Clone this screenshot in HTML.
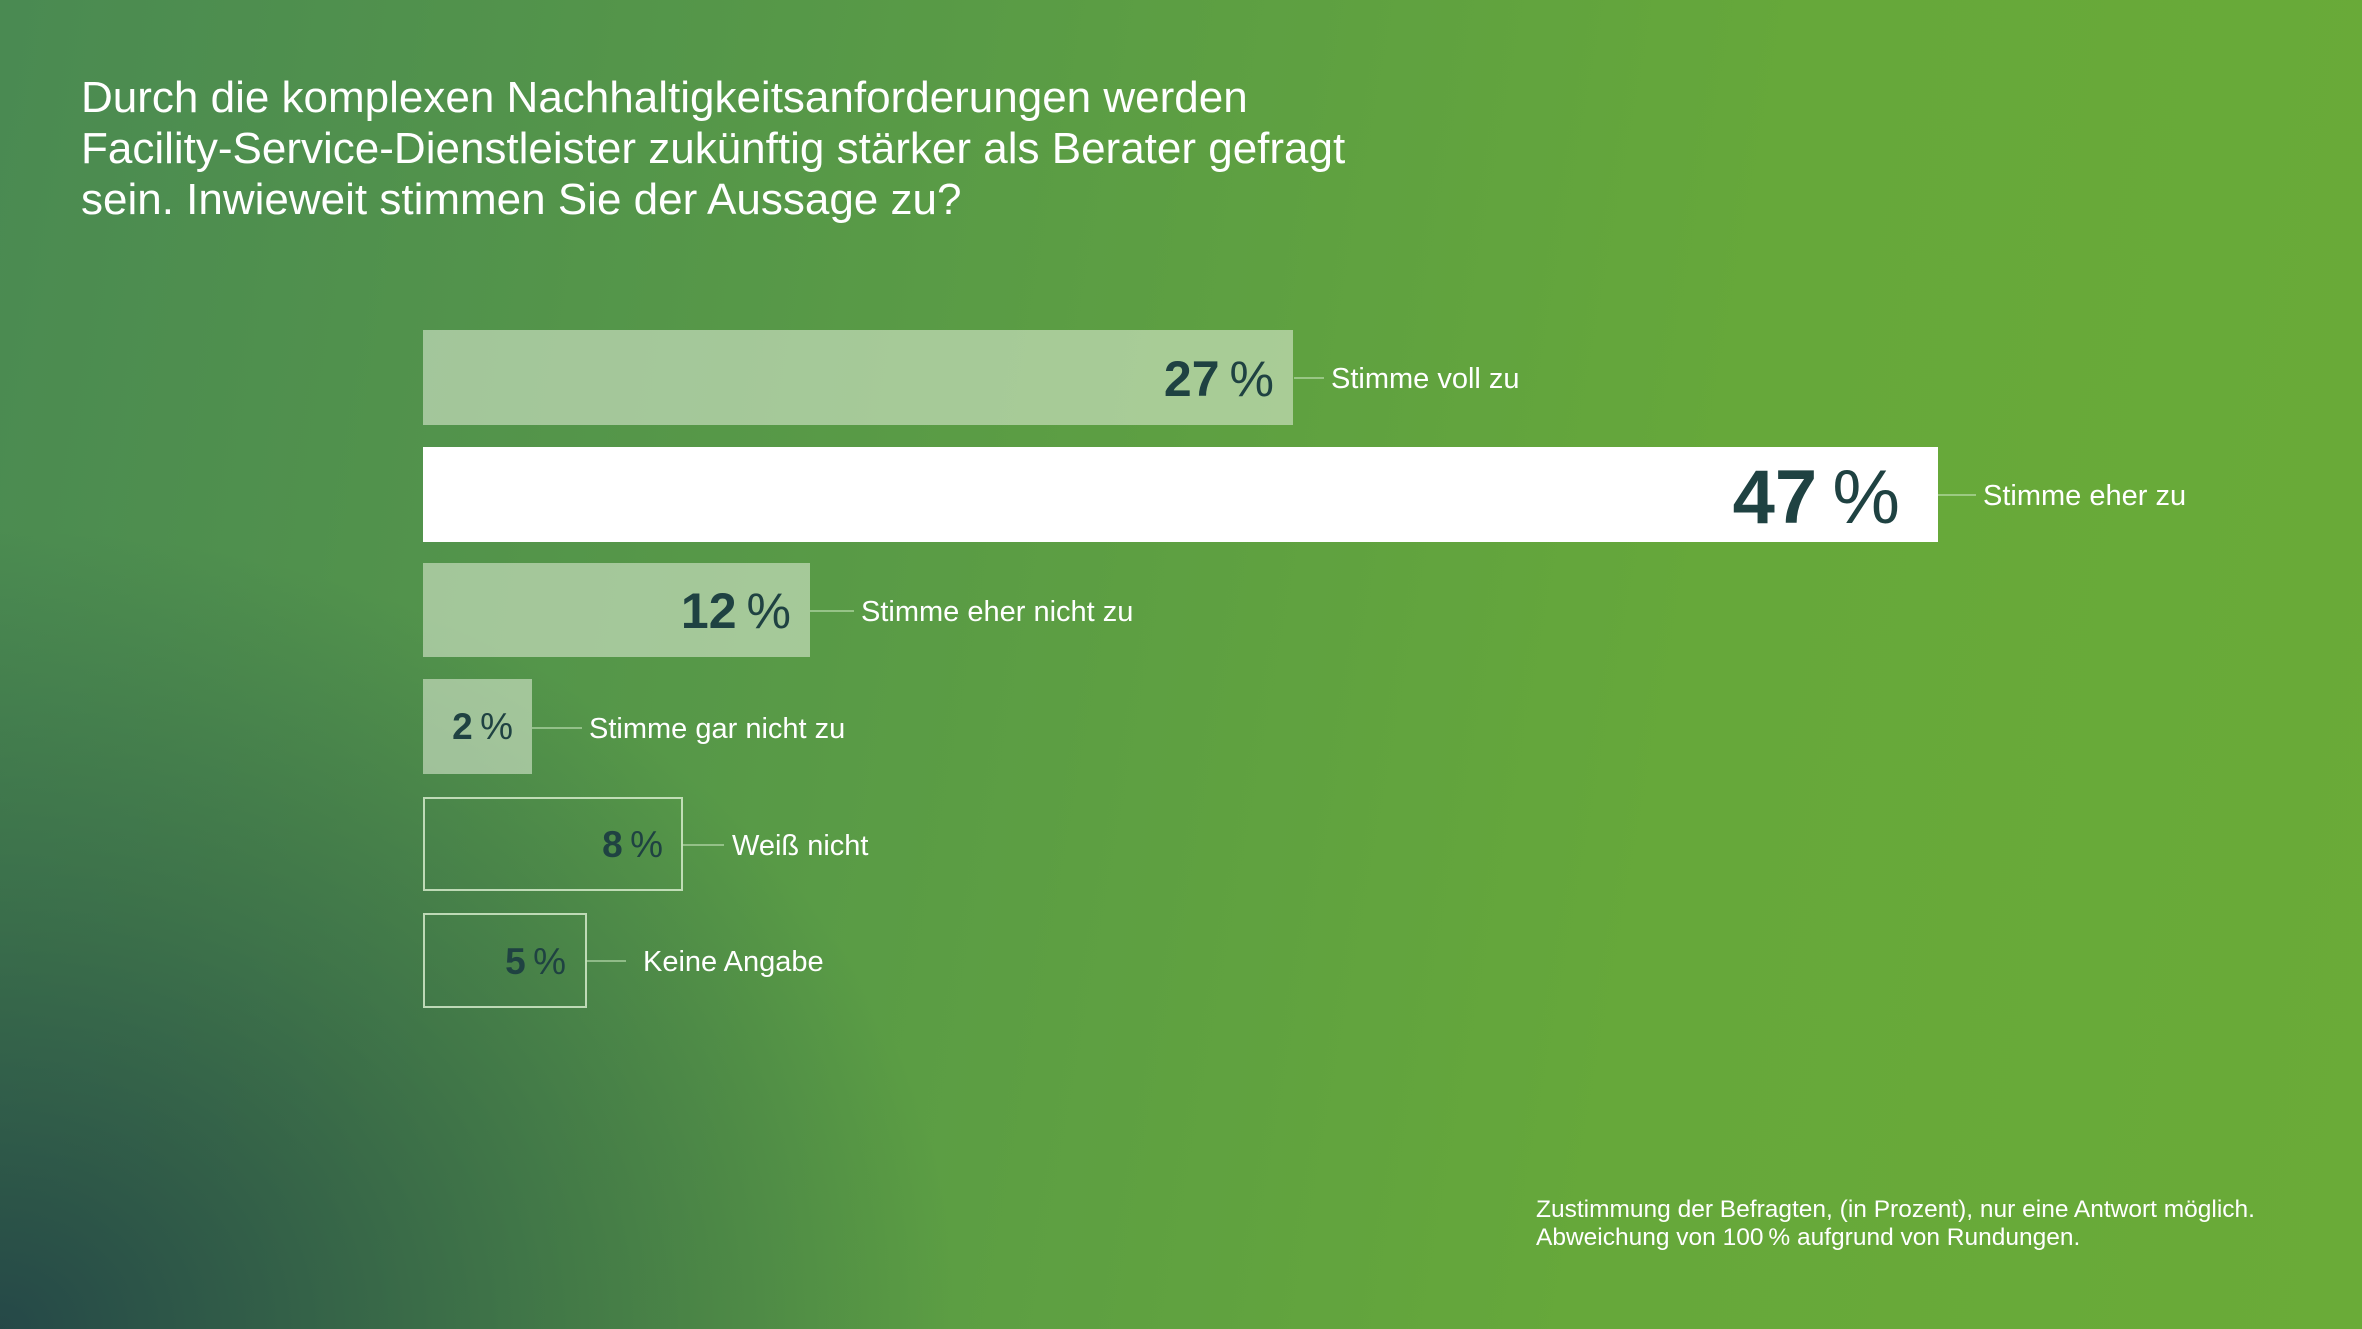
<!DOCTYPE html>
<html><head><meta charset="utf-8"><style>
html,body{margin:0;padding:0}
body{width:2362px;height:1329px;position:relative;overflow:hidden;font-family:"Liberation Sans",sans-serif;
background:
radial-gradient(ellipse 1200px 1000px at 0px 1329px, rgba(30,60,70,0.85), rgba(40,80,70,0.45) 45%, rgba(60,120,70,0) 80%),
linear-gradient(100deg,#4a8a52 0%,#5a9c45 40%,#66a83a 70%,#6aab38 100%);}
.t{position:absolute;left:81px;top:72px;color:#fff;font-size:44px;line-height:51px}
.bar{position:absolute;left:423px;box-sizing:border-box}
.f{background:rgba(230,240,220,0.55)}
.w{background:#fff}
.o{border:2px solid rgba(220,240,210,0.8)}
.n{position:absolute;color:#1f4242;font-weight:bold;white-space:nowrap;text-align:right}
.n span{font-weight:normal}
.ln{position:absolute;height:2px;background:rgba(200,230,190,0.55)}
.lb{position:absolute;color:#fff;font-size:29px;white-space:nowrap}
.fn{position:absolute;left:1536px;top:1196px;color:#fff;font-size:24.5px;line-height:28px}
</style></head><body>
<div class="t">Durch die komplexen Nachhaltigkeitsanforderungen werden<br>Facility-Service-Dienstleister zukünftig stärker als Berater gefragt<br>sein. Inwieweit stimmen Sie der Aussage zu?</div>

<div class="bar f" style="top:330px;width:870px;height:95px"></div>
<div class="n" style="right:1088px;top:350px;font-size:50px">27<span>&#8201;%</span></div>
<div class="ln" style="left:1294px;top:377px;width:30px"></div>
<div class="lb" style="left:1331px;top:363px">Stimme voll zu</div>

<div class="bar w" style="top:447px;width:1515px;height:95px"></div>
<div class="n" style="right:462px;top:454px;font-size:76px">47<span>&#8201;%</span></div>
<div class="ln" style="left:1938px;top:494px;width:38px"></div>
<div class="lb" style="left:1983px;top:480px">Stimme eher zu</div>

<div class="bar f" style="top:563px;width:387px;height:94px"></div>
<div class="n" style="right:1571px;top:582px;font-size:50px">12<span>&#8201;%</span></div>
<div class="ln" style="left:810px;top:610px;width:44px"></div>
<div class="lb" style="left:861px;top:596px">Stimme eher nicht zu</div>

<div class="bar f" style="top:679px;width:109px;height:95px"></div>
<div class="n" style="right:1849px;top:706px;font-size:37px">2<span>&#8201;%</span></div>
<div class="ln" style="left:532px;top:727px;width:50px"></div>
<div class="lb" style="left:589px;top:713px">Stimme gar nicht zu</div>

<div class="bar o" style="top:797px;width:260px;height:94px"></div>
<div class="n" style="right:1699px;top:824px;font-size:37px">8<span>&#8201;%</span></div>
<div class="ln" style="left:682px;top:844px;width:42px"></div>
<div class="lb" style="left:732px;top:830px">Weiß nicht</div>

<div class="bar o" style="top:913px;width:164px;height:95px"></div>
<div class="n" style="right:1796px;top:941px;font-size:37px">5<span>&#8201;%</span></div>
<div class="ln" style="left:586px;top:960px;width:40px"></div>
<div class="lb" style="left:643px;top:946px">Keine Angabe</div>

<div class="fn">Zustimmung der Befragten, (in Prozent), nur eine Antwort möglich.<br>Abweichung von 100&#8201;% aufgrund von Rundungen.</div>
</body></html>
